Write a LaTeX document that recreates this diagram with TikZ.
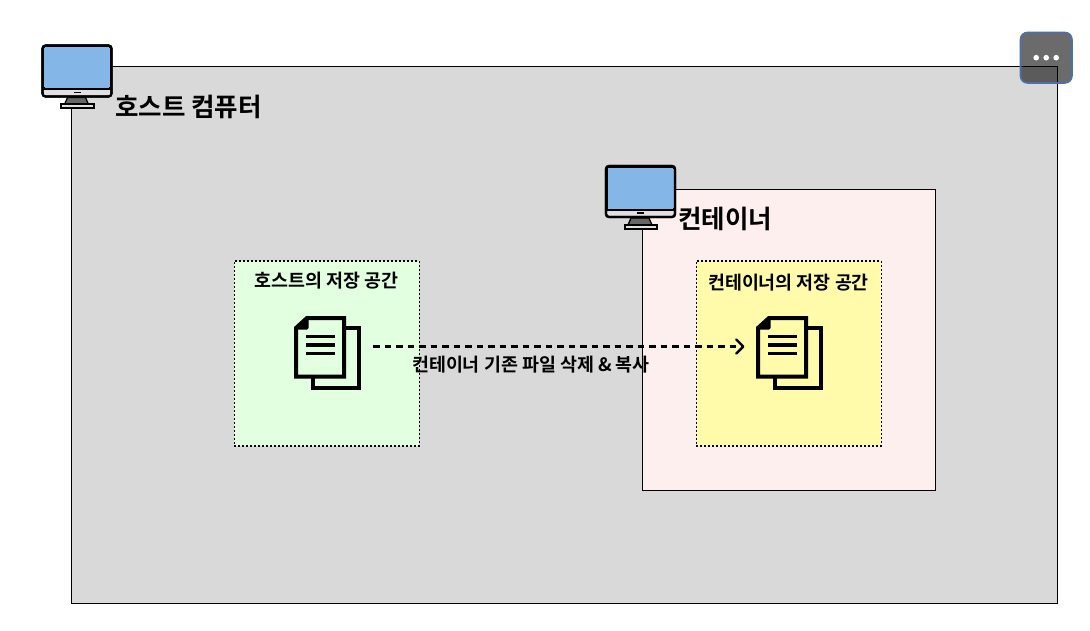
\documentclass[tikz,border=0pt]{standalone}
\usepackage{fontspec}
\setmainfont{Noto Sans CJK KR}[BoldFont={Noto Sans CJK KR Bold}]
\usetikzlibrary{arrows.meta}
\definecolor{hostgray}{HTML}{D9D9D9}
\definecolor{contpink}{HTML}{FDEFEE}
\definecolor{hostgreen}{HTML}{E2FFE0}
\definecolor{contyellow}{HTML}{FFFBAB}
\definecolor{screenblue}{HTML}{85B6E8}
\definecolor{menuedge}{HTML}{4E6EAC}
\tikzset{
  x=1pt,y=-1pt,
  panel/.style={draw=black,line width=1.2pt,inner sep=0pt},
  storage/.style={draw=black,line width=1.5pt,dash pattern=on 2pt off 2pt},
  titletext/.style={font=\bfseries\fontsize{25.5}{28}\selectfont,inner sep=0pt,text=black},
  smalltext/.style={font=\bfseries\fontsize{18.4}{21}\selectfont,inner sep=0pt,text=black},
  monitor/.pic={
    \fill[black!60,draw=black,line width=1.3pt] (26,53) -- (44,53) -- (47,60) -- (23,60) -- cycle;
    \draw[line width=2pt,fill=black!12] (19.5,59.5) rectangle (52,63.5);
    \draw[line width=2.2pt,fill=black!12,rounded corners=3pt] (1,1) rectangle (70,52);
    \draw[line width=0pt,fill=screenblue,rounded corners=2pt] (2,2) rectangle (69,44);
    \draw[line width=2pt] (1,44.5) -- (70,44.5);
    \draw[line width=2.2pt,rounded corners=3pt] (1,1) rectangle (70,52);
    \fill[black] (32,47.3) rectangle (39,48.8);
  },
}
\newcommand{\docdraw}[3]{%
  \begin{scope}[shift={(#1,#2)}]
    \draw[line width=4pt,fill=#3] (17,10.5) -- (62.5,10.5) -- (62.5,70.5) -- (17,70.5) -- cycle;
    \draw[line width=4pt,fill=#3,line join=miter] (0,11) -- (11,1) -- (48,1) -- (48,59.5) -- (0,59.5) -- cycle;
    \draw[line width=3pt,fill=black,line join=round] (0,11) -- (11,11) -- (11,1) -- cycle;
    \foreach \yy in {19.5,28,36.5}{\draw[line width=3.9pt] (10,\yy) -- (39,\yy);}
  \end{scope}}
\begin{document}
\begin{tikzpicture}
\useasboundingbox (0,0) rectangle (1090,630);
\fill[white] (0,0) rectangle (1090,630);
% host
\node[panel,fill=hostgray,minimum width=986pt,minimum height=537pt,anchor=north west] (host) at (70.5,66) {};
\pic at (41.5,44.5) {monitor};
\node[titletext] (hosttitle) at (188.5,106.5) {호스트 컴퓨터};
% container
\node[panel,fill=contpink,minimum width=293pt,minimum height=301pt,anchor=north west] (cont) at (641.5,189) {};
\pic at (605,165) {monitor};
\node[titletext] (conttitle) at (725,218.5) {컨테이너};
% storages
\node[storage,fill=hostgreen,minimum width=185pt,minimum height=185pt,anchor=north west] (hoststore) at (233.5,260) {};
\node[storage,fill=contyellow,minimum width=185pt,minimum height=185pt,anchor=north west] (contstore) at (695.5,260) {};
\node[smalltext] (hoststoretext) at (326.5,281) {호스트의 저장 공간};
\node[smalltext] (contstoretext) at (788.5,283) {컨테이너의 저장 공간};
% documents
\docdraw{296}{317}{hostgreen}
\docdraw{758}{317}{contyellow}
\coordinate (src) at (373,346.5);
\coordinate (dst) at (744.5,346.5);
\draw[line width=2.4pt,dash pattern=on 6.5pt off 5pt,-{Straight Barb[length=7pt,width=14pt,line width=2.4pt,round]}] (src) -- (dst);
\node[smalltext] (lab) at (531,364.5) {컨테이너 기존 파일 삭제 \& 복사};
% menu
\node[fill=black,fill opacity=0.58,minimum width=51pt,minimum height=50pt,rounded corners=7pt,anchor=north west] (menu) at (1020.5,32.5) {};
\draw[draw=menuedge,line width=1.7pt,rounded corners=7pt] (menu.north west) rectangle (menu.south east);
\foreach \dx in {-10,0,10}{\fill[white] ([xshift=\dx pt]menu.center) circle (2.8pt);}
\end{tikzpicture}
\end{document}
